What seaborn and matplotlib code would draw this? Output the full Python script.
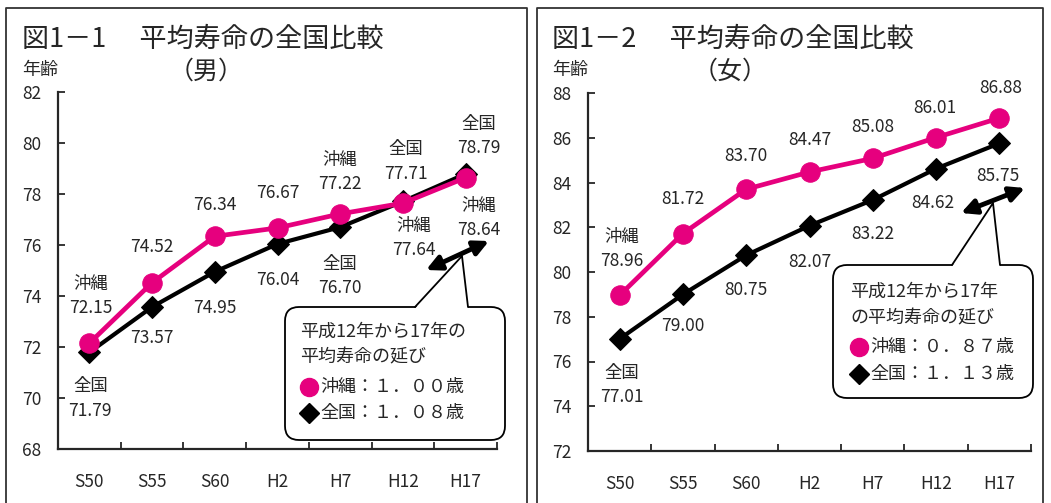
import matplotlib
matplotlib.use("Agg")
import matplotlib.pyplot as plt
from matplotlib.patches import FancyBboxPatch, Polygon, FancyArrowPatch
from matplotlib.ticker import FixedLocator
import seaborn as sns
import pandas as pd

W, H = 1051, 503
PINK = "#E6007E"

years = ["S50", "S55", "S60", "H2", "H7", "H12", "H17"]

male_okinawa = [72.15, 74.52, 76.34, 76.67, 77.22, 77.64, 78.64]
male_zenkoku = [71.79, 73.57, 74.95, 76.04, 76.70, 77.71, 78.79]
female_okinawa = [78.96, 81.72, 83.70, 84.47, 85.08, 86.01, 86.88]
female_zenkoku = [77.01, 79.00, 80.75, 82.07, 83.22, 84.62, 85.75]

male_yticks = list(range(68, 83, 2))
female_yticks = list(range(72, 89, 2))

# label prefixes (two-line labels) and offsets in pixels from the point
male_ok_prefix = ["沖縄", "", "", "", "沖縄", "沖縄", "沖縄"]
male_zk_prefix = ["全国", "", "", "", "全国", "全国", "全国"]
male_ok_off = [(1, 47), (0, 36), (0, 31), (0, 35), (0, 42), (11, -35), (13, -40)]
male_zk_off = [(1, -46), (0, -31), (0, -36), (0, -36), (0, -49), (3, 40), (13, 38)]

female_ok_prefix = ["沖縄", "", "", "", "", "", ""]
female_zk_prefix = ["全国", "", "", "", "", "", ""]
female_ok_off = [(2, 46), (0, 35), (0, 33), (0, 32), (0, 31), (-1, 30), (1, 30)]
female_zk_off = [(2, -46), (0, -32), (0, -35), (0, -36), (0, -34), (-3, -34), (-1, -33)]

sns.set_style("ticks")
plt.rcParams["font.family"] = ["Noto Sans CJK JP", "DejaVu Sans"]

fig = plt.figure(figsize=(W / 100, H / 100), dpi=100)
ax1 = fig.add_axes([58 / W, 1 - 449 / H, (497 - 58) / W, (449 - 92) / H])
ax2 = fig.add_axes([588 / W, 1 - 451 / H, (1031 - 588) / W, (451 - 93) / H])


def label(v, prefix):
    s = f"{v:.2f}"
    return f"{prefix}\n{s}" if prefix else s


def draw_panel(ax, okinawa, zenkoku, yticks, ok_prefix, zk_prefix, ok_off, zk_off):
    df_zk = pd.DataFrame({"year": years, "value": zenkoku})
    df_ok = pd.DataFrame({"year": years, "value": okinawa})
    sns.lineplot(data=df_zk, x="year", y="value", ax=ax, color="black", lw=3,
                 marker="D", markersize=11, markeredgecolor="black", sort=False, zorder=3)
    sns.lineplot(data=df_ok, x="year", y="value", ax=ax, color=PINK, lw=3.4,
                 marker="o", markersize=14, markeredgecolor=PINK, sort=False, zorder=4)
    ax.set_xlim(-0.5, len(years) - 0.5)
    ax.set_ylim(yticks[0], yticks[-1])
    ax.set_yticks(yticks)
    ax.set_xticks(range(len(years)))
    ax.set_xticklabels(years)
    ax.xaxis.set_minor_locator(FixedLocator([i - 0.5 for i in range(len(years) + 1)]))
    ax.tick_params(axis="x", which="major", length=0, pad=17, labelsize=12.5)
    ax.tick_params(axis="x", which="minor", direction="in", length=5, width=1.3)
    ax.tick_params(axis="y", direction="in", length=5, width=1.3, pad=12, labelsize=12.5)
    ax.set_xlabel("")
    ax.set_ylabel("")
    for s in ["top", "right"]:
        ax.spines[s].set_visible(False)
    for s in ["left", "bottom"]:
        ax.spines[s].set_linewidth(1.6)
    ax.set_facecolor("none")
    for i, v in enumerate(okinawa):
        ax.annotate(label(v, ok_prefix[i]), (i, v), xytext=ok_off[i], textcoords="offset pixels",
                    ha="center", va="center", fontsize=12.5, linespacing=1.45)
    for i, v in enumerate(zenkoku):
        ax.annotate(label(v, zk_prefix[i]), (i, v), xytext=zk_off[i], textcoords="offset pixels",
                    ha="center", va="center", fontsize=12.5, linespacing=1.45)


draw_panel(ax1, male_okinawa, male_zenkoku, male_yticks,
           male_ok_prefix, male_zk_prefix, male_ok_off, male_zk_off)
draw_panel(ax2, female_okinawa, female_zenkoku, female_yticks,
           female_ok_prefix, female_zk_prefix, female_ok_off, female_zk_off)

# overlay in pixel coordinates for frames, callouts, arrows and titles
ov = fig.add_axes([0, 0, 1, 1], zorder=10)
ov.set_xlim(0, W)
ov.set_ylim(H, 0)
ov.axis("off")
ov.patch.set_alpha(0)

ov.plot([6, 6, 527, 527], [H + 5, 8, 8, H + 5], color="#333333", lw=1.3)
ov.plot([537, 537, 1043, 1043], [H + 5, 8, 8, H + 5], color="#333333", lw=1.3)

ov.text(22, 39, "図1－1　 平均寿命の全国比較", fontsize=19.5, ha="left", va="center")
ov.text(206, 72, "（男）", fontsize=18, ha="center", va="center")
ov.text(22, 70, "年齢", fontsize=13, ha="left", va="center")
ov.text(552, 39, "図1－2　 平均寿命の全国比較", fontsize=19.5, ha="left", va="center")
ov.text(730, 72, "（女）", fontsize=18, ha="center", va="center")
ov.text(552, 70, "年齢", fontsize=13, ha="left", va="center")


def callout(x0, y0, x1, y1, tail_l, tail_r, apex, lines, nums, text_x, line_y):
    box = FancyBboxPatch((x0, y0), x1 - x0, y1 - y0,
                         boxstyle="round,pad=0,rounding_size=14",
                         facecolor="white", edgecolor="black", lw=1.3)
    ov.add_patch(box)
    ov.add_patch(Polygon([(tail_l, y0 + 1.5), apex, (tail_r, y0 + 1.5)],
                         closed=True, facecolor="white", edgecolor="none"))
    ov.plot([tail_l, apex[0], tail_r], [y0, apex[1], y0], color="black", lw=1.3)
    ov.text(text_x, line_y[0], lines[0], fontsize=13, ha="left", va="center")
    ov.text(text_x, line_y[1], lines[1], fontsize=13, ha="left", va="center")
    ov.plot([text_x + 9], [line_y[2]], marker="o", color=PINK, markersize=13)
    ov.plot([text_x + 9], [line_y[3]], marker="D", color="black", markersize=10)
    ov.text(text_x + 20, line_y[2], "沖縄：" + nums[0] + "歳", fontsize=13, ha="left", va="center")
    ov.text(text_x + 20, line_y[3], "全国：" + nums[1] + "歳", fontsize=13, ha="left", va="center")


callout(285, 307, 505, 440, 415, 468, (462, 256),
        ["平成12年から17年の", "平均寿命の延び"], ["１．００", "１．０８"], 300, [332, 357, 387, 413])
callout(833, 265, 1033, 398, 952, 1000, (993, 203),
        ["平成12年から17年", "の平均寿命の延び"], ["０．８７", "１．１３"], 850, [292, 318, 347, 374])

for (xa, ya), (xb, yb) in [((426, 270), (489, 241)), ((961, 213), (1025, 188))]:
    ov.add_patch(FancyArrowPatch((xa, ya), (xb, yb), arrowstyle="<|-|>",
                                 mutation_scale=22, lw=3.5, color="black",
                                 shrinkA=0, shrinkB=0))

fig.savefig("out.png", dpi=100)
